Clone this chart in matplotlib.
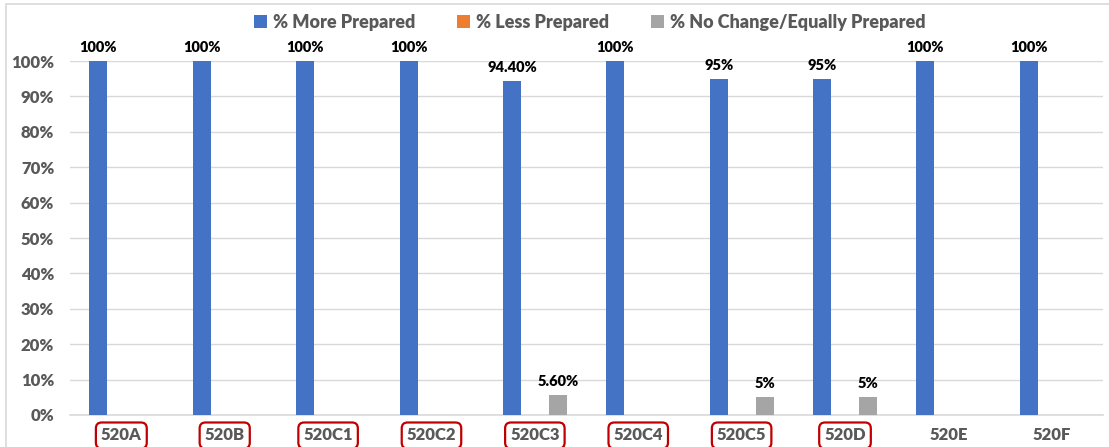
#!/usr/bin/env python3
"""Grouped bar chart of preparedness change per course section"""
import matplotlib.pyplot as plt
from matplotlib.patches import Rectangle
import numpy as np

sections = ['520A', '520B', '520C1', '520C2', '520C3',
            '520C4', '520C5', '520D', '520E', '520F']
more_prepared = [100, 100, 100, 100, 94.4, 100, 95, 95, 100, 100]
less_prepared = [0, 0, 0, 0, 0, 0, 0, 0, 0, 0]
no_change = [0, 0, 0, 0, 5.6, 0, 5, 5, 0, 0]
series_names = ['% More Prepared', '% Less Prepared',
                '% No Change/Equally Prepared']
boxed = ['520A', '520B', '520C1', '520C2', '520C3', '520C4', '520C5', '520D']


def pct(v):
    """Format a value the way the data labels show it"""
    if float(v).is_integer():
        return '{:.0f}%'.format(v)
    return '{:.2f}%'.format(v)


plt.rcParams['font.family'] = ['Lato', 'DejaVu Sans']

fig = plt.figure(figsize=(11.09, 4.47), dpi=100)
ax = fig.add_axes([0.0628, 0.0716, 0.9322, 0.7919])

x = np.arange(len(sections))
width = 0.174
offset = 0.222
colors = ['#4472c4', '#ed7d31', '#a5a5a5']
series = [more_prepared, less_prepared, no_change]

for i, vals in enumerate(series):
    pos = x + (i - 1) * offset
    ax.bar(pos, vals, width=width, color=colors[i], label=series_names[i],
           zorder=3)
    for p, v in zip(pos, vals):
        if v > 0:
            ax.annotate(pct(v), (p, v), xytext=(0, 5),
                        textcoords='offset points', ha='center',
                        va='bottom', fontsize=10.5, fontweight='heavy',
                        color='black', annotation_clip=False)

ax.set_xlim(-0.5, len(sections) - 0.5)
ax.set_ylim(0, 100)
ax.set_yticks(np.arange(0, 101, 10))
ax.set_yticklabels(['{}%'.format(t) for t in range(0, 101, 10)])
ax.set_xticks(x)
ax.set_xticklabels(sections)

ax.grid(axis='y', color='#d9d9d9', linewidth=1, zorder=0)
for side in ['top', 'right', 'left']:
    ax.spines[side].set_visible(False)
ax.spines['bottom'].set_color('#d9d9d9')
ax.spines['bottom'].set_linewidth(1.2)
ax.tick_params(axis='both', length=0, labelsize=12, labelcolor='#595959')
ax.tick_params(axis='x', pad=9)
ax.tick_params(axis='y', pad=11)
for lbl in ax.get_xticklabels() + ax.get_yticklabels():
    lbl.set_fontweight('heavy')
for lbl in ax.get_xticklabels():
    if lbl.get_text() in boxed:
        lbl.set_bbox(dict(boxstyle='round,pad=0.3,rounding_size=0.35',
                          ec='#c00000', fc='none', lw=1.6))

leg = fig.legend(loc='center', bbox_to_anchor=(0.532, 0.95), ncol=3,
                 frameon=False, fontsize=13, handlelength=0.7,
                 handleheight=0.7, handletextpad=0.35, columnspacing=2.3)
for t in leg.get_texts():
    t.set_color('#595959')
    t.set_fontweight('heavy')

# light chart border
fig.patches.append(Rectangle((6 / 1109, -0.1), 1.2, 1.1 - 4 / 447,
                             transform=fig.transFigure, fill=False,
                             ec='#d9d9d9', lw=1.2))

fig.savefig('out.png', dpi=100)
